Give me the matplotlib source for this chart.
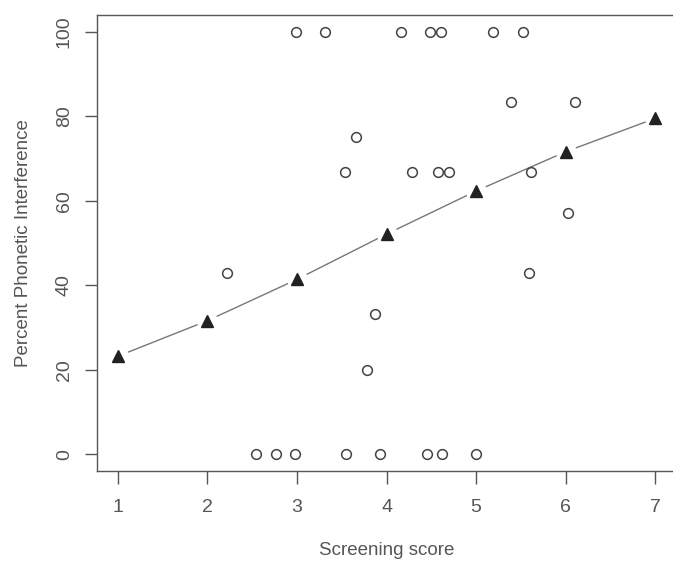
import numpy as np
import matplotlib.pyplot as plt

plt.rcParams['font.family'] = ['Liberation Sans', 'DejaVu Sans']

# observed scores (jittered as in the figure) and percent interference
obs_x = [2.99, 3.31, 4.16, 4.49, 4.61, 5.19, 5.53,
         3.66, 5.39, 6.11,
         3.54, 4.28, 4.58, 4.70, 5.61,
         6.03,
         2.22, 5.59,
         3.87,
         3.78,
         2.54, 2.76, 2.98, 3.55, 3.93, 4.45, 4.62, 5.00]
obs_y = [100, 100, 100, 100, 100, 100, 100,
         75, 83.3, 83.3,
         66.7, 66.7, 66.7, 66.7, 66.7,
         57.1,
         42.9, 42.9,
         33.3,
         20,
         0, 0, 0, 0, 0, 0, 0, 0]

# predicted values per screening score
fit_x = [1, 2, 3, 4, 5, 6, 7]
fit_y = [23.2, 31.6, 41.4, 52.1, 62.3, 71.6, 79.5]

xticks = [1, 2, 3, 4, 5, 6, 7]
yticks = [0, 20, 40, 60, 80, 100]

W, H = 673, 563
fig = plt.figure(figsize=(W / 100, H / 100), dpi=100)
ax = fig.add_axes([96.5 / W, 1 - 471 / H, 580 / W, 456 / H])

grey = '#555555'

# line with gaps around the points (R type="b")
ax.plot(fit_x, fit_y, color='#777777', lw=1.0, zorder=2)
ax.plot(fit_x, fit_y, 'o', ms=15, color='white', mec='none', zorder=3)
ax.plot(fit_x, fit_y, '^', ms=8, color='#222222', mec='#222222', zorder=4)

ax.plot(obs_x, obs_y, 'o', ms=7, mfc='white', mec='#444444', mew=1.1,
        linestyle='none', zorder=5)

ax.set_xlim(0.76, 7.24)
ax.set_ylim(-4, 104)
ax.set_xticks(xticks)
ax.set_yticks(yticks)
ax.set_xticklabels([str(t) for t in xticks])
ax.set_yticklabels([str(t) for t in yticks], rotation=90, va='center')

for s in ax.spines.values():
    s.set_color('#555555')
    s.set_linewidth(1.0)
ax.tick_params(colors='#555555', labelcolor=grey, labelsize=14,
               length=9, width=1.0, pad=8)
ax.tick_params(axis='x', pad=11)

ax.set_xlabel('Screening score', fontsize=13.5, color=grey, labelpad=19)
ax.set_ylabel('Percent Phonetic Interference', fontsize=13.5, color=grey,
              labelpad=17)

fig.savefig('out.png', dpi=100)
